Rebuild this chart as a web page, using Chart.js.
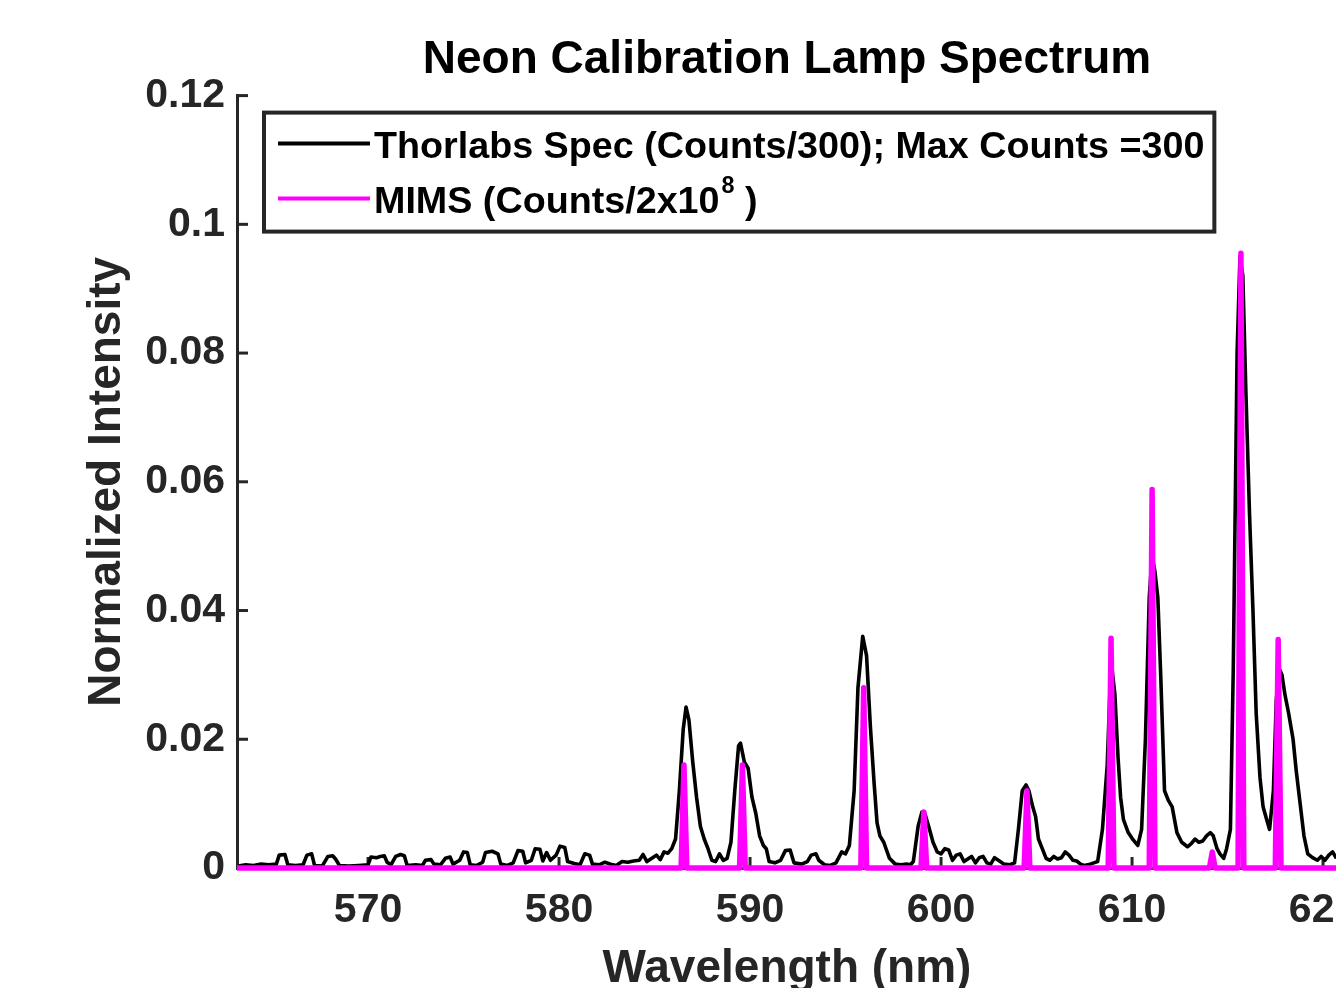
<!DOCTYPE html>
<html><head><meta charset="utf-8">
<script src="https://cdn.jsdelivr.net/npm/chart.js@4.4.1/dist/chart.umd.min.js"></script>
<style>html,body{margin:0;padding:0;background:#fff;overflow:hidden;} #wrap{position:relative;width:1400px;height:988px;}</style>
</head><body><div id="wrap"><canvas id="c" width="1400" height="988"></canvas></div>
<script>
const chartTitle = 'Neon Calibration Lamp Spectrum';
const xTitle = 'Wavelength (nm)';
const yTitle = 'Normalized Intensity';
const seriesLabels = ['Thorlabs Spec (Counts/300); Max Counts =300', 'MIMS (Counts/2x10\u2078 )'];
const xTicks = [570, 580, 590, 600, 610, 620];
const yTicks = [0, 0.02, 0.04, 0.06, 0.08, 0.1, 0.12];
const yTickLabels = ['0', '0.02', '0.04', '0.06', '0.08', '0.1', '0.12'];
const xRange = [563.14, 620.73];

const thorWl = [563.20,563.60,564.00,564.40,564.80,565.20,565.35,565.65,565.80,566.20,566.60,566.80,567.05,567.20,567.60,567.90,568.15,568.30,568.50,569.00,569.50,570.00,570.15,570.45,570.65,570.85,571.00,571.20,571.45,571.70,571.90,572.05,572.50,572.85,573.00,573.30,573.45,573.80,574.05,574.30,574.45,574.80,575.00,575.20,575.35,575.70,576.00,576.15,576.50,576.80,576.95,577.30,577.60,577.85,578.10,578.25,578.55,578.75,579.00,579.15,579.35,579.55,579.85,580.05,580.30,580.45,580.80,581.10,581.35,581.60,581.75,582.10,582.40,582.70,583.00,583.30,583.60,583.90,584.20,584.40,584.60,584.90,585.10,585.30,585.50,585.70,585.90,586.10,586.30,586.50,586.65,586.80,587.00,587.20,587.40,587.60,587.80,588.00,588.20,588.40,588.60,588.80,589.00,589.20,589.40,589.50,589.70,589.90,590.10,590.30,590.50,590.70,590.85,591.00,591.30,591.60,591.85,592.10,592.30,592.70,593.00,593.20,593.45,593.60,593.90,594.20,594.50,594.80,595.00,595.20,595.45,595.65,595.90,596.10,596.30,596.50,596.65,596.80,597.00,597.30,597.60,597.90,598.20,598.40,598.55,598.80,599.00,599.15,599.35,599.58,599.80,600.00,600.20,600.40,600.60,600.80,601.00,601.20,601.40,601.60,601.80,602.00,602.20,602.40,602.60,602.80,603.00,603.30,603.60,603.85,604.05,604.25,604.45,604.60,604.80,604.95,605.10,605.30,605.50,605.70,605.90,606.10,606.30,606.50,606.70,606.90,607.10,607.30,607.50,607.80,608.00,608.20,608.45,608.70,608.85,608.95,609.10,609.27,609.40,609.55,609.80,610.05,610.30,610.50,610.70,610.90,611.05,611.20,611.35,611.50,611.70,611.90,612.10,612.35,612.60,612.90,613.10,613.30,613.50,613.70,613.90,614.10,614.25,614.45,614.60,614.80,614.95,615.15,615.30,615.50,615.65,615.80,615.95,616.15,616.33,616.50,616.70,616.86,617.05,617.20,617.40,617.55,617.70,617.85,618.00,618.20,618.43,618.60,618.80,619.00,619.20,619.45,619.70,619.90,620.10,620.30,620.50,620.70];
const thorVal = [0.0003,0.0005,0.0004,0.0006,0.0005,0.0006,0.0020,0.0021,0.0005,0.0004,0.0005,0.0020,0.0022,0.0004,0.0003,0.0018,0.0019,0.0014,0.0004,0.0003,0.0004,0.0005,0.0017,0.0016,0.0018,0.0019,0.0009,0.0005,0.0018,0.0021,0.0019,0.0004,0.0005,0.0004,0.0012,0.0013,0.0006,0.0005,0.0015,0.0017,0.0006,0.0012,0.0025,0.0024,0.0005,0.0004,0.0009,0.0024,0.0026,0.0022,0.0006,0.0004,0.0008,0.0027,0.0026,0.0008,0.0012,0.0030,0.0029,0.0011,0.0024,0.0012,0.0020,0.0034,0.0032,0.0010,0.0007,0.0005,0.0022,0.0020,0.0006,0.0005,0.0009,0.0006,0.0004,0.0010,0.0009,0.0011,0.0012,0.0021,0.0010,0.0016,0.0020,0.0013,0.0025,0.0023,0.0030,0.0045,0.0120,0.0215,0.0250,0.0230,0.0165,0.0110,0.0065,0.0045,0.0030,0.0012,0.0010,0.0022,0.0012,0.0015,0.0040,0.0120,0.0190,0.0194,0.0165,0.0155,0.0110,0.0085,0.0050,0.0035,0.0030,0.0010,0.0008,0.0012,0.0027,0.0028,0.0008,0.0006,0.0010,0.0020,0.0022,0.0012,0.0005,0.0004,0.0008,0.0025,0.0022,0.0035,0.0120,0.0280,0.0360,0.0330,0.0220,0.0130,0.0070,0.0050,0.0040,0.0015,0.0006,0.0005,0.0006,0.0005,0.0010,0.0065,0.0087,0.0085,0.0065,0.0040,0.0025,0.0022,0.0030,0.0028,0.0012,0.0020,0.0022,0.0010,0.0014,0.0018,0.0008,0.0016,0.0018,0.0008,0.0006,0.0016,0.0012,0.0006,0.0005,0.0008,0.0060,0.0120,0.0129,0.0120,0.0095,0.0080,0.0045,0.0030,0.0015,0.0012,0.0018,0.0014,0.0016,0.0025,0.0020,0.0012,0.0011,0.0006,0.0004,0.0006,0.0008,0.0010,0.0060,0.0160,0.0280,0.0310,0.0270,0.0170,0.0110,0.0075,0.0055,0.0044,0.0035,0.0060,0.0200,0.0420,0.0485,0.0460,0.0420,0.0300,0.0120,0.0105,0.0095,0.0055,0.0040,0.0033,0.0038,0.0045,0.0040,0.0042,0.0050,0.0055,0.0050,0.0030,0.0022,0.0015,0.0030,0.0060,0.0310,0.0800,0.0950,0.0920,0.0750,0.0550,0.0400,0.0240,0.0140,0.0095,0.0075,0.0060,0.0120,0.0260,0.0310,0.0300,0.0270,0.0240,0.0200,0.0150,0.0100,0.0050,0.0022,0.0016,0.0012,0.0018,0.0012,0.0020,0.0025,0.0015];

const mimsWl = [563.14,586.39,586.54,586.69,589.45,589.60,589.75,595.80,595.95,596.10,598.95,599.10,599.25,604.35,604.50,604.65,608.75,608.90,609.05,610.90,611.05,611.20,614.05,614.20,614.35,615.55,615.70,615.85,617.50,617.65,617.80,620.73];
const mimsVal = [0,0,0.0160,0,0,0.0160,0,0,0.0280,0,0,0.0087,0,0,0.0120,0,0,0.0357,0,0,0.0588,0,0,0.0025,0,0,0.0955,0,0,0.0355,0,0];

const FONT = '"Liberation Sans", Arial, Helvetica, sans-serif';
Chart.defaults.font.family = FONT;
const AX = '#262626';
const SUP = '\u2070\u00b9\u00b2\u00b3\u2074\u2075\u2076\u2077\u2078\u2079';

function richRun(ctx, text, x, y, size, draw) {
  let cx = x;
  for (const ch of text) {
    const k = SUP.indexOf(ch);
    if (k >= 0) {
      ctx.font = 'bold ' + (size * 0.62) + 'px ' + FONT;
      if (draw) ctx.fillText(String(k), cx + 2, y - size * 0.42);
      cx += ctx.measureText(String(k)).width + 2;
    } else {
      ctx.font = 'bold ' + size + 'px ' + FONT;
      if (draw) ctx.fillText(ch, cx, y);
      cx += ctx.measureText(ch).width;
    }
  }
  return cx - x;
}

const inTicks = {
  id: 'inTicks',
  beforeDatasetsDraw(chart) {
    const {ctx, chartArea: a, scales: {x, y}} = chart;
    ctx.save();
    ctx.strokeStyle = AX; ctx.lineWidth = 3;
    y.ticks.forEach(t => { const py = y.getPixelForValue(t.value); ctx.beginPath(); ctx.moveTo(a.left, py); ctx.lineTo(a.left + 11, py); ctx.stroke(); });
    x.ticks.forEach(t => { const px = x.getPixelForValue(t.value); ctx.beginPath(); ctx.moveTo(px, a.bottom); ctx.lineTo(px, a.bottom - 11); ctx.stroke(); });
    ctx.restore();
  }
};

const boxLegend = {
  id: 'boxLegend',
  afterDatasetsDraw(chart) {
    const {ctx, chartArea} = chart;
    const ds = chart.data.datasets;
    const size = 37.7;
    ctx.save();
    ctx.textBaseline = 'middle'; ctx.textAlign = 'left';
    let maxW = 0;
    ds.forEach(d => { maxW = Math.max(maxW, richRun(ctx, d.label, 0, 0, size, false)); });
    const x0 = chartArea.left + 27, y0 = chartArea.top + 17;
    const gapL = 14, lineLen = 92, gapT = 4, padR = 10;
    const w = gapL + lineLen + gapT + maxW + padR, h = 119;
    ctx.fillStyle = '#fff'; ctx.fillRect(x0, y0, w, h);
    ctx.lineWidth = 4; ctx.strokeStyle = AX; ctx.strokeRect(x0, y0, w, h);
    const rows = [31, 86];
    ds.forEach((d, i) => {
      const ly = y0 + rows[i];
      ctx.beginPath(); ctx.moveTo(x0 + gapL, ly); ctx.lineTo(x0 + gapL + lineLen, ly);
      ctx.strokeStyle = d.borderColor; ctx.lineWidth = 4; ctx.stroke();
      ctx.fillStyle = '#000';
      richRun(ctx, d.label, x0 + gapL + lineLen + gapT, ly + 4, size, true);
    });
    ctx.restore();
  }
};

new Chart(document.getElementById('c'), {
  type: 'line',
  data: {
    datasets: [
      { label: seriesLabels[0], data: thorWl.map((w, i) => ({x: w, y: thorVal[i]})), borderColor: '#000000', borderWidth: 3.6, pointRadius: 0, tension: 0, borderJoinStyle: 'round', clip: false, order: 2 },
      { label: seriesLabels[1], data: mimsWl.map((w, i) => ({x: w, y: mimsVal[i]})), borderColor: '#ff00ff', borderWidth: 5.5, pointRadius: 0, tension: 0, borderJoinStyle: 'round', clip: false, order: 1 }
    ]
  },
  options: {
    responsive: false, animation: false, devicePixelRatio: 1,
    layout: { padding: { left: 0, right: 63, top: 0, bottom: 0 } },
    plugins: {
      legend: { display: false },
      tooltip: { enabled: false },
      title: { display: true, text: chartTitle, fullSize: false, color: '#000', font: { size: 46, weight: 'bold' }, padding: { top: 33, bottom: 7.4 } }
    },
    scales: {
      x: {
        type: 'linear', min: xRange[0], max: xRange[1],
        afterBuildTicks: s => { s.ticks = xTicks.map(v => ({value: v})); },
        afterFit: s => { s.height = 120; },
        grid: { display: false, drawTicks: false },
        border: { display: true, color: AX, width: 3 },
        ticks: { color: AX, font: { size: 41, weight: 'bold' }, padding: 18, maxRotation: 0, autoSkip: false, callback: v => String(v) },
        title: { display: true, text: xTitle, color: AX, font: { size: 46, weight: 'bold', lineHeight: 0.8 }, padding: { top: 0, bottom: 0 } }
      },
      y: {
        type: 'linear', min: 0, max: 0.12,
        afterBuildTicks: s => { s.ticks = yTicks.map(v => ({value: v})); },
        afterFit: s => { s.width = 237; },
        grid: { display: false, drawTicks: false },
        border: { display: true, color: AX, width: 3 },
        ticks: { color: AX, font: { size: 41, weight: 'bold' }, padding: 12, autoSkip: false, callback: (v, i) => yTickLabels[i] },
        title: { display: true, text: yTitle, color: AX, font: { size: 46, weight: 'bold' }, padding: { top: 80, bottom: 0 } }
      }
    }
  },
  plugins: [inTicks, boxLegend]
});
</script></body></html>
